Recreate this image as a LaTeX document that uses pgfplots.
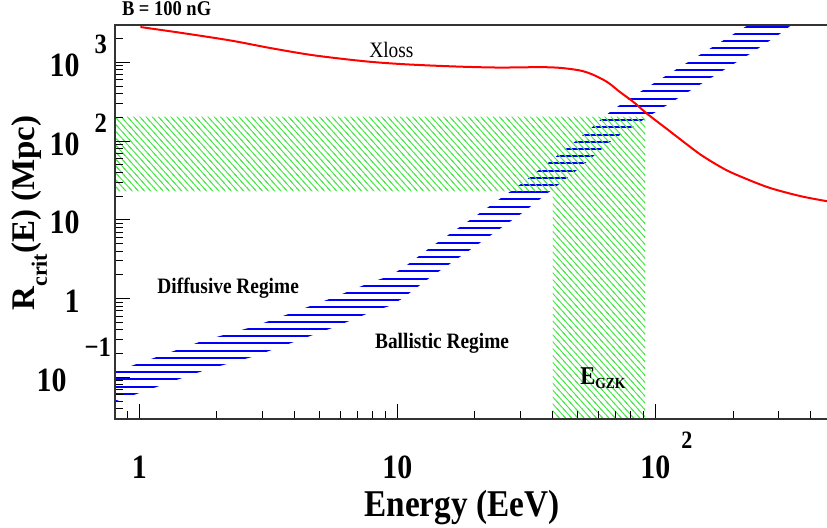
\documentclass[border=0pt]{standalone}
\usepackage{fontspec}
\setmainfont{Liberation Serif}[FakeStretch=0.88]
\newfontfamily\ylabfont{Liberation Serif}
\usepackage{pgfplots}
\usepackage{pgfplotstable}
\pgfplotsset{compat=1.18}
\usepgfplotslibrary{fillbetween}
\usetikzlibrary{patterns}

% hatch styles (overlapping lines -> no seams)
\pgfdeclarepatternformonly{bandlines}{\pgfqpoint{-1pt}{0pt}}{\pgfqpoint{101pt}{3.6pt}}{\pgfqpoint{100pt}{3.6pt}}{
  \pgfsetlinewidth{1pt}
  \pgfpathmoveto{\pgfqpoint{-1pt}{1.8pt}}
  \pgfpathlineto{\pgfqpoint{101pt}{1.8pt}}
  \pgfusepath{stroke}
}
\pgfdeclarepatternformonly{gzklines}{\pgfqpoint{-0.7pt}{-0.7pt}}{\pgfqpoint{3.8pt}{4.2pt}}{\pgfqpoint{3.1pt}{3.45pt}}{
  \pgfsetlinewidth{0.45pt}
  \pgfpathmoveto{\pgfqpoint{-0.62pt}{4.14pt}}
  \pgfpathlineto{\pgfqpoint{3.72pt}{-0.69pt}}
  \pgfusepath{stroke}
}

% exponent hung to the right of a "10"
\newcommand{\ex}[4]{\rlap{\hspace{#1}\raisebox{#2}{\fontsize{#3}{16}\selectfont #4}}}

% energy loss length
\pgfplotstableread{
E R
1.01 2805
1.44 2376
2.25 1897
3.22 1518
4.72 1230
7.38 1035
10.0 957
13.4 911
18.7 875
25.1 858
35.8 868
42.8 850
51.2 786
57.5 693
65.2 560
73.1 417
82.2 314
93.1 221
111 142
128.5 98
149 68
174 49.5
200 39
272 26
365 20
464 17.2
500 16.5
}\xloss

% critical distance band (upper / lower edge)
\pgfplotstableread{
E up lo
0.75 0.110 0.0457
0.807 0.1186 0.0494
1.206 0.188 0.0783
1.771 0.292 0.1217
2.767 0.440 0.1833
3.917 0.663 0.276
5.649 1.03 0.429
7.86 1.60 0.667
9.23 1.91 0.796
10.46 2.41 1.004
13.42 4.46 1.858
19.53 10.45 4.35
30.8 30.0 12.5
50.3 106 44.2
68.1 248 103
92.2 473 197
140.4 1109 462
233.5 3092 1288
305 5560 2317
400 11000 4580
}\band

\begin{document}
\begin{tikzpicture}
\begin{axis}[
  name=ax,
  scale only axis,
  width=357pt, height=197pt,
  xmode=log, ymode=log,
  xmin=0.805, xmax=471,
  ymin=0.02955, ymax=2977,
  axis on top,
  axis line style={black!80, line width=0.6pt},
  tick pos=left,
  tick align=inside,
  tick style={black, line width=0.5pt},
  major tick length=7.5pt,
  minor tick length=4pt,
  xtick={1,10,100},
  xticklabels={1, 10, 10\ex{5.5pt}{15pt}{12.5}{2}},
  minor xtick={0.9,2,3,4,5,6,7,8,9,20,30,40,50,60,70,80,90,200,300,400},
  ytick={0.1,1,10,100,1000},
  yticklabels={\makebox[0pt][r]{10\ex{9pt}{17.5pt}{14}{−1}\kern6pt}, 1, 10, 10\ex{7.5pt}{11.5pt}{14}{2}, 10\ex{7.5pt}{11.5pt}{14}{3}},
  minor ytick={0.03,0.04,0.05,0.06,0.07,0.08,0.09,0.2,0.3,0.4,0.5,0.6,0.7,0.8,0.9,2,3,4,5,6,7,8,9,20,30,40,50,60,70,80,90,200,300,400,500,600,700,800,900,2000},
  xticklabel style={anchor=base, inner sep=0pt, yshift=-29.5pt, font=\fontsize{17}{20}\selectfont\bfseries},
  yticklabel style={anchor=base east, inner sep=0pt, xshift=-17.5pt, yshift=-7pt, font=\fontsize{17}{20}\selectfont\bfseries},
]
% GZK hatched region
\addplot[draw=none, pattern=gzklines, pattern color={rgb,255:red,70;green,230;blue,70}]
  coordinates {(0.5,23) (0.5,205) (91.2,205) (91.2,0.01) (40.1,0.01) (40.1,23)} -- cycle;

% R_crit band
\addplot[draw=none, name path=up, forget plot] table[x=E, y=up] {\band};
\addplot[draw=none, name path=lo, forget plot] table[x=E, y=lo] {\band};
\addplot[draw=none, pattern=bandlines, pattern color=blue]
  fill between[of=up and lo];

% Xloss
\addplot[red, line width=1pt, smooth, no markers] table[x=E, y=R] {\xloss};

\node[anchor=base, font=\fontsize{11}{13}\selectfont] at (axis cs:9.48,1164) {Xloss};
\node[anchor=base, font=\bfseries\fontsize{11}{13}\selectfont] at (axis cs:2.21,1.148) {Diffusive Regime};
\node[anchor=base, font=\bfseries\fontsize{11}{13}\selectfont] at (axis cs:14.91,0.2307) {Ballistic Regime};
\node[anchor=base, font=\bfseries] at (axis cs:62.6,0.0802)
  {{\fontsize{12.8}{15}\selectfont E}\raisebox{-2pt}{\fontsize{7.7}{9}\selectfont GZK}};
\end{axis}

\node[anchor=base west, font=\bfseries\fontsize{10.5}{12}\selectfont] at ([yshift=5pt]ax.north west) {B = 100 nG};
\node[anchor=base, font=\bfseries\fontsize{18.9}{22}\selectfont] at ([xshift=-5pt, yshift=-48.5pt]ax.south) {Energy (EeV)};
\node[rotate=90, anchor=base, font=\ylabfont\bfseries\fontsize{16.5}{20}\selectfont] at ([xshift=-40pt, yshift=4.5pt]ax.west)
  {R\raisebox{-6pt}{\fontsize{11}{13}\selectfont crit}(E) (Mpc)};

\pgfresetboundingbox
\path[use as bounding box] ([xshift=-57.5pt, yshift=-54pt]ax.south west) rectangle ([xshift=-1pt, yshift=12.5pt]ax.north east);
\end{tikzpicture}
\end{document}
